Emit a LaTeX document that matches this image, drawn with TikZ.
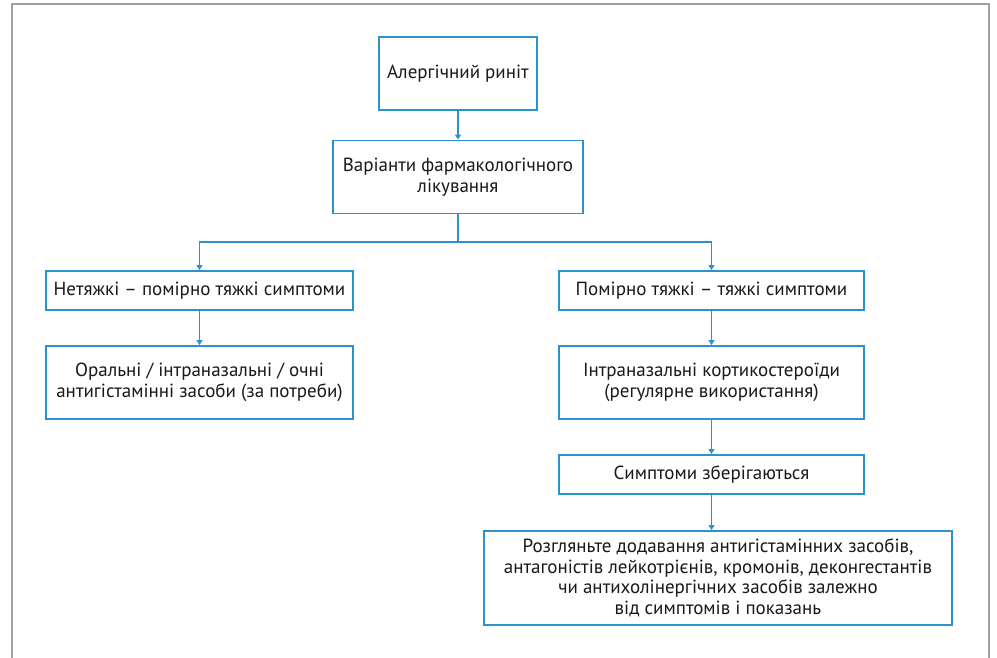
\documentclass[tikz,border=0pt]{standalone}
\usepackage{fontspec}
\setmainfont{PT Sans}
\usetikzlibrary{arrows.meta}
\definecolor{boxblue}{RGB}{45,145,205}
\definecolor{framegray}{RGB}{160,160,160}
\definecolor{txt}{RGB}{25,25,25}
\begin{document}
\begin{tikzpicture}[x=1pt,y=-1pt,
  box/.style={draw=boxblue,line width=1.9pt,fill=white,inner sep=0pt,align=center,
    text=txt,font=\fontsize{19}{20.5}\selectfont},
  conn/.style={draw=boxblue,line width=1.7pt},
  arr/.style={conn,-{Triangle[width=6pt,length=5pt]}}]
\useasboundingbox (0,0) rectangle (997,658);
\fill[white] (0,0) rectangle (997,658);
\draw[framegray,line width=1.5pt] (12,658) -- (12,4) -- (989,4) -- (989,658);

\node[box,minimum width=158pt,minimum height=73pt] (b1) at (458,73.5) {Алергічний риніт};
\node[box,minimum width=250pt,minimum height=73pt] (b2) at (458,177) {Варіанти фармакологічного\\лікування};
\node[box,minimum width=307pt,minimum height=39pt] (b3) at (199.5,290.5) {Нетяжкі – помірно тяжкі симптоми};
\node[box,minimum width=305pt,minimum height=39pt] (b4) at (711.5,290.5) {Помірно тяжкі – тяжкі симптоми};
\node[box,minimum width=307pt,minimum height=73pt] (b5) at (199.5,382.5) {Оральні / інтраназальні / очні\\антигістамінні засоби (за потреби)};
\node[box,minimum width=305pt,minimum height=73pt] (b6) at (711.5,382.5) {Інтраназальні кортикостероїди\\(регулярне використання)};
\node[box,minimum width=305pt,minimum height=39pt] (b7) at (711.5,474.5) {Симптоми зберігаються};
\node[box,minimum width=468pt,minimum height=94pt] (b8) at (718,578) {Розгляньте додавання антигістамінних засобів,\\антагоністів лейкотрієнів, кромонів, деконгестантів\\чи антихолінергічних засобів залежно\\від симптомів і показань};

\coordinate (split) at (458,242);
\draw[arr] (b1.south) -- (b2.north);
\draw[conn] (b2.south) -- (split);
\draw[arr] (split) -| (b3.north);
\draw[arr] (split) -| (b4.north);
\draw[arr] (b3.south) -- (b5.north);
\draw[arr] (b4.south) -- (b6.north);
\draw[arr] (b6.south) -- (b7.north);
\draw[arr] (b7.south) -- (b7.south |- b8.north);
\end{tikzpicture}
\end{document}
